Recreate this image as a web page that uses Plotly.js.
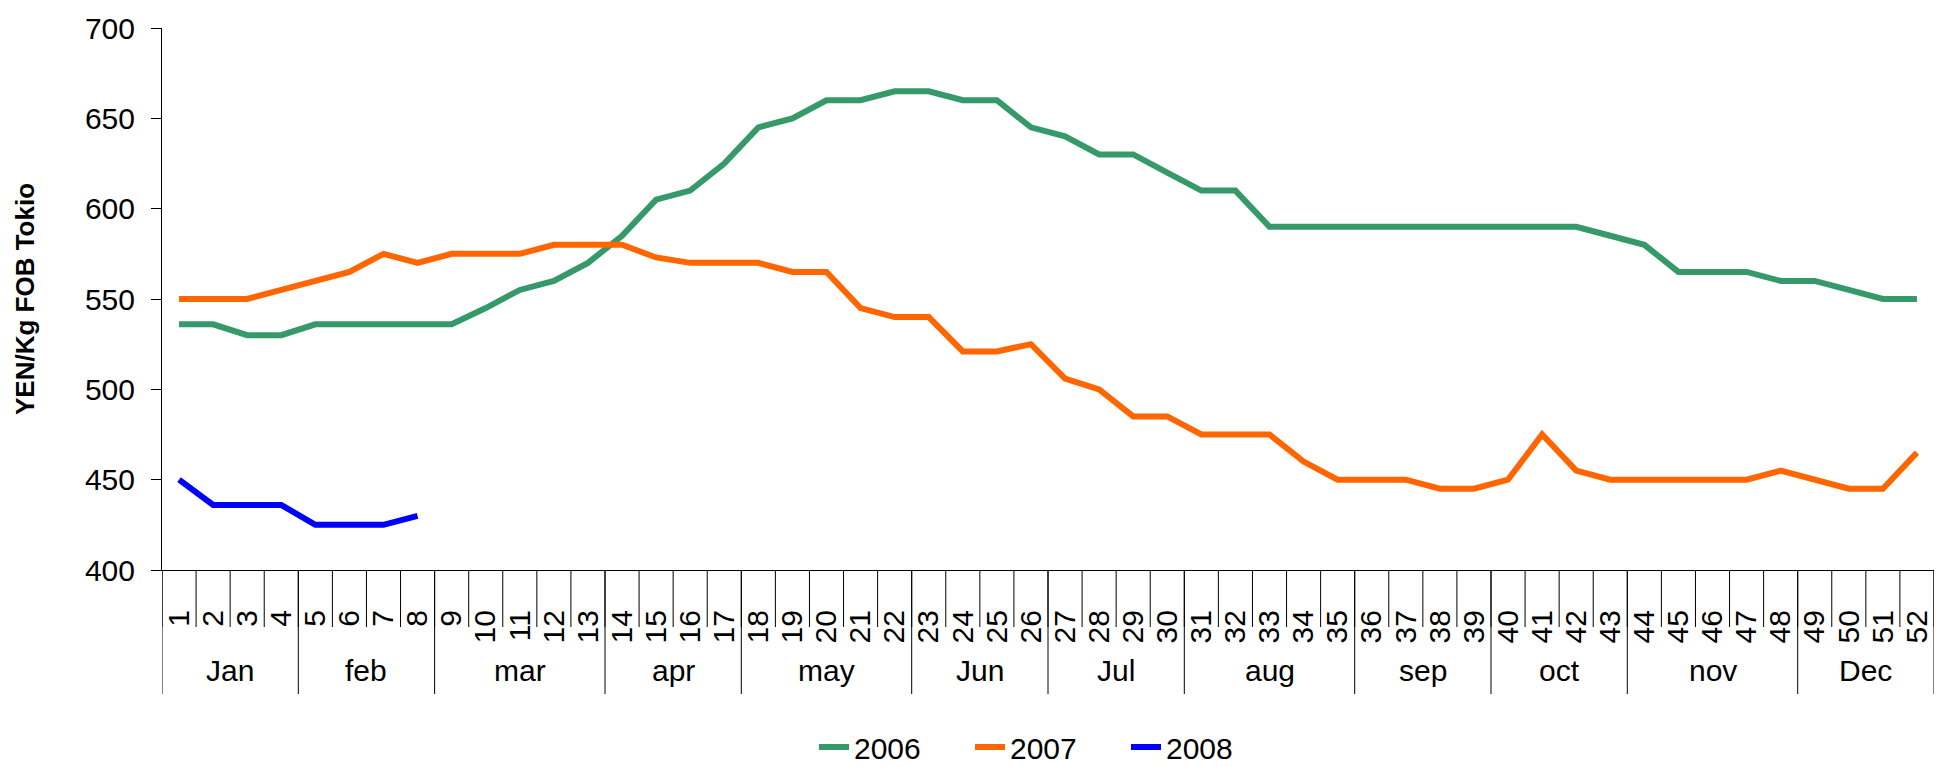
<!DOCTYPE html>
<html>
<head>
<meta charset="utf-8">
<script src="https://cdn.plot.ly/plotly-3.0.1.min.js"></script>
<style>
  html, body { margin: 0; padding: 0; background: #ffffff; }
  #chart { width: 1936px; height: 767px; }
</style>
</head>
<body>
<div id="chart"></div>
<script>
// ---- data ----
const weeks = ["1","2","3","4","5","6","7","8","9","10","11","12","13","14","15","16","17","18","19","20","21","22","23","24","25","26","27","28","29","30","31","32","33","34","35","36","37","38","39","40","41","42","43","44","45","46","47","48","49","50","51","52"];
const monthNames = ["Jan","feb","mar","apr","may","Jun","Jul","aug","sep","oct","nov","Dec"];
const monthWeekCounts = [4, 4, 5, 4, 5, 4, 4, 5, 4, 4, 5, 4];

const y2006 = [536,536,530,530,536,536,536,536,536,545,555,560,570,585,605,610,625,645,650,660,660,665,665,660,660,645,640,630,630,620,610,610,590,590,590,590,590,590,590,590,590,590,585,580,565,565,565,560,560,555,550,550];
const y2007 = [550,550,550,555,560,565,575,570,575,575,575,580,580,580,573,570,570,570,565,565,545,540,540,521,521,525,506,500,485,485,475,475,475,460,450,450,450,445,445,450,475,455,450,450,450,450,450,455,450,445,445,465];
const y2008 = [450,436,436,436,425,425,425,430];
const seriesNames = ["2006","2007","2008"];

// ---- layout constants ----
const FONT = "Liberation Sans, Arial, Helvetica, sans-serif";
const W = 1936, H = 767;
const plotTop = 28, plotBottom = 570, plotLeft = 162, plotRight = 1934;
const plotH = plotBottom - plotTop;
const px2paper = p => -p / plotH;   // pixels below the x axis -> paper y

const colors = ["#36996A", "#FF6600", "#0000FF"];

const traces = [y2006, y2007, y2008].map((ys, i) => ({
  type: "scatter",
  mode: "lines",
  name: seriesNames[i],
  x: weeks.slice(0, ys.length),
  y: ys,
  line: { color: colors[i], width: 6, shape: "linear" },
  hoverinfo: "x+y+name"
}));

const shapes = [];
const annotations = [];
const weekDivLen = 57, monthDivLen = 124;

// week dividers (category boundaries)
for (let i = 0; i <= weeks.length; i++) {
  shapes.push({
    type: "line", xref: "x", yref: "paper",
    x0: i - 0.5, x1: i - 0.5, y0: 0, y1: px2paper(weekDivLen),
    line: { color: "#000000", width: 1 }
  });
}
// month dividers and labels
let start = 0;
for (let m = 0; m < monthNames.length; m++) {
  const end = start + monthWeekCounts[m];
  shapes.push({
    type: "line", xref: "x", yref: "paper",
    x0: start - 0.5, x1: start - 0.5, y0: 0, y1: px2paper(monthDivLen),
    line: { color: "#000000", width: 1 }
  });
  annotations.push({
    xref: "x", yref: "paper",
    x: (start + end - 1) / 2, y: px2paper(100),
    text: monthNames[m], showarrow: false,
    xanchor: "center", yanchor: "middle",
    font: { family: FONT, size: 30, color: "#000000" }
  });
  start = end;
}
shapes.push({
  type: "line", xref: "x", yref: "paper",
  x0: start - 0.5, x1: start - 0.5, y0: 0, y1: px2paper(monthDivLen),
  line: { color: "#000000", width: 1 }
});

const layout = {
  width: W, height: H,
  margin: { l: plotLeft, r: W - plotRight, t: plotTop, b: H - plotBottom, pad: 0, autoexpand: false },
  paper_bgcolor: "#ffffff",
  plot_bgcolor: "#ffffff",
  font: { family: FONT, size: 30, color: "#000000" },
  showlegend: true,
  legend: {
    orientation: "h",
    x: 0.5, xanchor: "center",
    y: px2paper(177), yanchor: "middle",
    font: { family: FONT, size: 30, color: "#000000" },
    entrywidth: 111, entrywidthmode: "pixels",
    bgcolor: "rgba(0,0,0,0)"
  },
  xaxis: {
    type: "category",
    categoryorder: "array",
    categoryarray: weeks,
    range: [-0.5, weeks.length - 0.5],
    showline: true, linecolor: "#000000", linewidth: 1,
    showgrid: false, zeroline: false,
    ticks: "",
    tickmode: "array", tickvals: weeks, ticktext: weeks,
    tickangle: -90,
    ticklabelstandoff: 27,
    tickfont: { family: FONT, size: 30, color: "#000000" },
    fixedrange: true
  },
  yaxis: {
    range: [400, 700],
    tickmode: "linear", tick0: 400, dtick: 50,
    showline: true, linecolor: "#000000", linewidth: 1,
    showgrid: false, zeroline: false,
    ticks: "outside", ticklen: 10, tickcolor: "#000000", tickwidth: 1,
    ticklabelstandoff: 10,
    tickfont: { family: FONT, size: 30, color: "#000000" },
    title: {
      text: "<b>YEN/Kg FOB Tokio</b>",
      font: { family: FONT, size: 26, color: "#000000" },
      standoff: 42
    },
    fixedrange: true
  },
  shapes: shapes,
  annotations: annotations
};

Plotly.newPlot("chart", traces, layout, { displayModeBar: false });
</script>
</body>
</html>
